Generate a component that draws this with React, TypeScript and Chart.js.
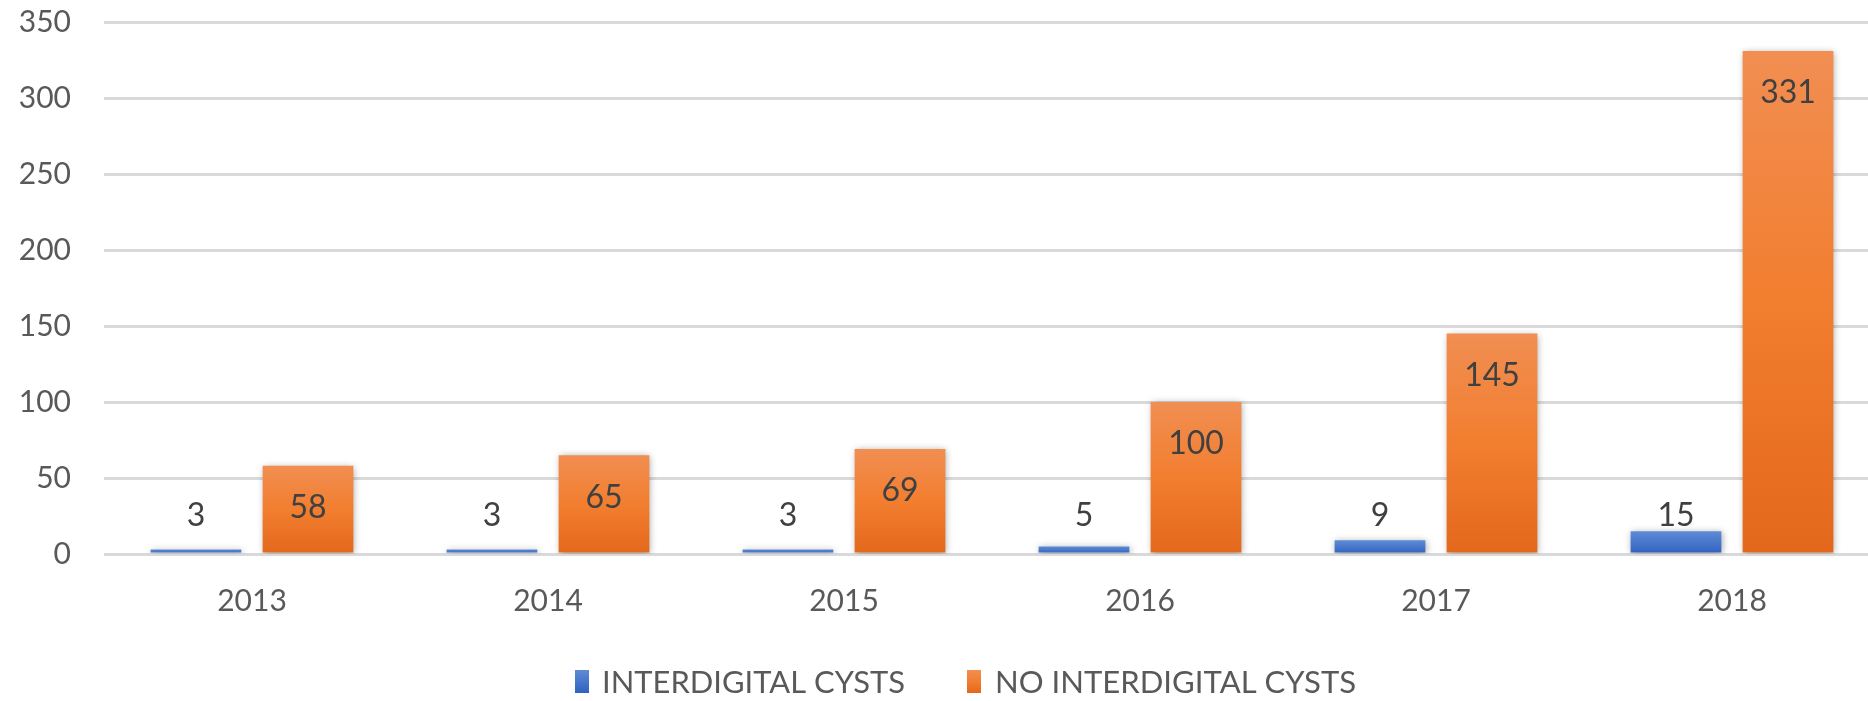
import React, { useEffect, useRef } from "react";
import { Chart, registerables } from "chart.js";

Chart.register(...registerables);

const categories = ["2013", "2014", "2015", "2016", "2017", "2018"];
const interdigital = [3, 3, 3, 5, 9, 15];
const noInterdigital = [58, 65, 69, 100, 145, 331];
const seriesNames = ["INTERDIGITAL CYSTS", "NO INTERDIGITAL CYSTS"];
const yTicks = [0, 50, 100, 150, 200, 250, 300, 350];

const FONT = "Lato";
const BLUE_TOP = "#5F8BD6";
const BLUE_BOTTOM = "#2F62C0";
const ORANGE_TOP = "#F18E52";
const ORANGE_MID = "#F27E2F";
const ORANGE_BOTTOM = "#E3681B";

function makeGradient(chart: any, top: number, bottom: number, colors: string[]) {
  const g = chart.ctx.createLinearGradient(0, top, 0, bottom);
  if (colors.length === 3) {
    g.addColorStop(0, colors[0]);
    g.addColorStop(0.5, colors[1]);
    g.addColorStop(1, colors[2]);
  } else {
    g.addColorStop(0, colors[0]);
    g.addColorStop(1, colors[1]);
  }
  return g;
}

function barFill(colors: string[], solid: string) {
  return (ctx: any) => {
    const chart = ctx.chart;
    if (!chart.chartArea || ctx.type !== "data") return solid;
    const y = chart.scales.y;
    const top = y.getPixelForValue(ctx.raw);
    const bottom = y.getPixelForValue(0);
    if (bottom - top < 1) return solid;
    return makeGradient(chart, top, bottom, colors);
  };
}

const shadowPlugin = {
  id: "barShadow",
  beforeDatasetsDraw(chart: any) {
    const c = chart.ctx;
    c.save();
    c.shadowColor = "rgba(0,0,0,0.35)";
    c.shadowBlur = 7;
    c.shadowOffsetX = 1;
    c.shadowOffsetY = 1;
  },
  afterDatasetsDraw(chart: any) {
    chart.ctx.restore();
  },
};

const labelsPlugin = {
  id: "valueLabels",
  afterDatasetsDraw(chart: any) {
    const c = chart.ctx;
    const zero = chart.scales.y.getPixelForValue(0);
    c.save();
    c.font = `32px ${FONT}`;
    c.textAlign = "center";
    c.textBaseline = "middle";
    c.fillStyle = "#404040";
    chart.data.datasets.forEach((ds: any, di: number) => {
      const meta = chart.getDatasetMeta(di);
      meta.data.forEach((bar: any, i: number) => {
        const v = ds.data[i];
        const y = di === 0 ? zero - 38 : bar.y + 42;
        c.fillText(String(v), bar.x, y);
      });
    });
    c.restore();
  },
};

const legendPlugin = {
  id: "customLegend",
  afterDraw(chart: any) {
    const c = chart.ctx;
    const items = [
      { x: 575, w: 14, tx: 602, tw: 303, colors: [BLUE_TOP, BLUE_BOTTOM] },
      { x: 967, w: 14, tx: 995, tw: 361, colors: [ORANGE_TOP, ORANGE_MID, ORANGE_BOTTOM] },
    ];
    const top = 670;
    const bottom = 693;
    c.save();
    items.forEach((it, i) => {
      c.fillStyle = makeGradient(chart, top, bottom, it.colors);
      c.fillRect(it.x, top, it.w, bottom - top);
      c.fillStyle = "#595959";
      c.font = `31px ${FONT}`;
      c.textAlign = "left";
      c.textBaseline = "middle";
      const natural = c.measureText(seriesNames[i]).width;
      const sx = it.tw / natural;
      c.save();
      c.translate(it.tx, (top + bottom) / 2 + 1);
      c.scale(sx, 1);
      c.fillText(seriesNames[i], 0, 0);
      c.restore();
    });
    c.restore();
  },
};

function BarChart() {
  const ref = useRef<HTMLCanvasElement | null>(null);
  useEffect(() => {
    if (!ref.current) return;
    const chart = new Chart(ref.current, {
      type: "bar",
      data: {
        labels: categories,
        datasets: [
          {
            label: seriesNames[0],
            data: interdigital,
            backgroundColor: barFill([BLUE_TOP, BLUE_BOTTOM], "#4472C4"),
            borderWidth: 0,
            categoryPercentage: 0.757,
            barPercentage: 0.81,
          },
          {
            label: seriesNames[1],
            data: noInterdigital,
            backgroundColor: barFill([ORANGE_TOP, ORANGE_MID, ORANGE_BOTTOM], "#ED7D31"),
            borderWidth: 0,
            categoryPercentage: 0.757,
            barPercentage: 0.81,
          },
        ],
      },
      options: {
        responsive: false,
        maintainAspectRatio: false,
        animation: false,
        layout: { padding: { top: 22, left: 0, right: 0, bottom: 0 } },
        plugins: {
          legend: { display: false },
          tooltip: { enabled: false },
          title: { display: false },
        },
        scales: {
          x: {
            grid: { display: false, drawTicks: false },
            border: { display: false },
            ticks: {
              color: "#595959",
              font: { family: FONT, size: 30, lineHeight: 1.2 },
              padding: 29,
              maxRotation: 0,
            },
            afterFit(scale: any) {
              scale.height = 147;
              scale.paddingLeft = 0;
              scale.paddingRight = 0;
            },
          },
          y: {
            min: 0,
            max: 350,
            afterBuildTicks(scale: any) {
              scale.ticks = yTicks.map((v) => ({ value: v }));
            },
            grid: { color: "#D9D9D9", lineWidth: 3, drawTicks: false },
            border: { display: false },
            ticks: {
              color: "#595959",
              font: { family: FONT, size: 30, lineHeight: 1.2 },
              padding: 33,
            },
            afterFit(scale: any) {
              scale.width = 104;
              scale.paddingTop = 0;
              scale.paddingBottom = 0;
            },
          },
        },
      },
      plugins: [shadowPlugin, labelsPlugin, legendPlugin],
    } as any);
    return () => chart.destroy();
  }, []);
  return <canvas ref={ref} width={1880} height={701} style={{ display: "block", width: 1880, height: 701 }} />;
}

export default function App() {
  return (
    <div
      style={{
        position: "fixed",
        left: 0,
        top: 0,
        width: 1868,
        height: 701,
        overflow: "hidden",
        background: "#ffffff",
      }}
    >
      <BarChart />
    </div>
  );
}
